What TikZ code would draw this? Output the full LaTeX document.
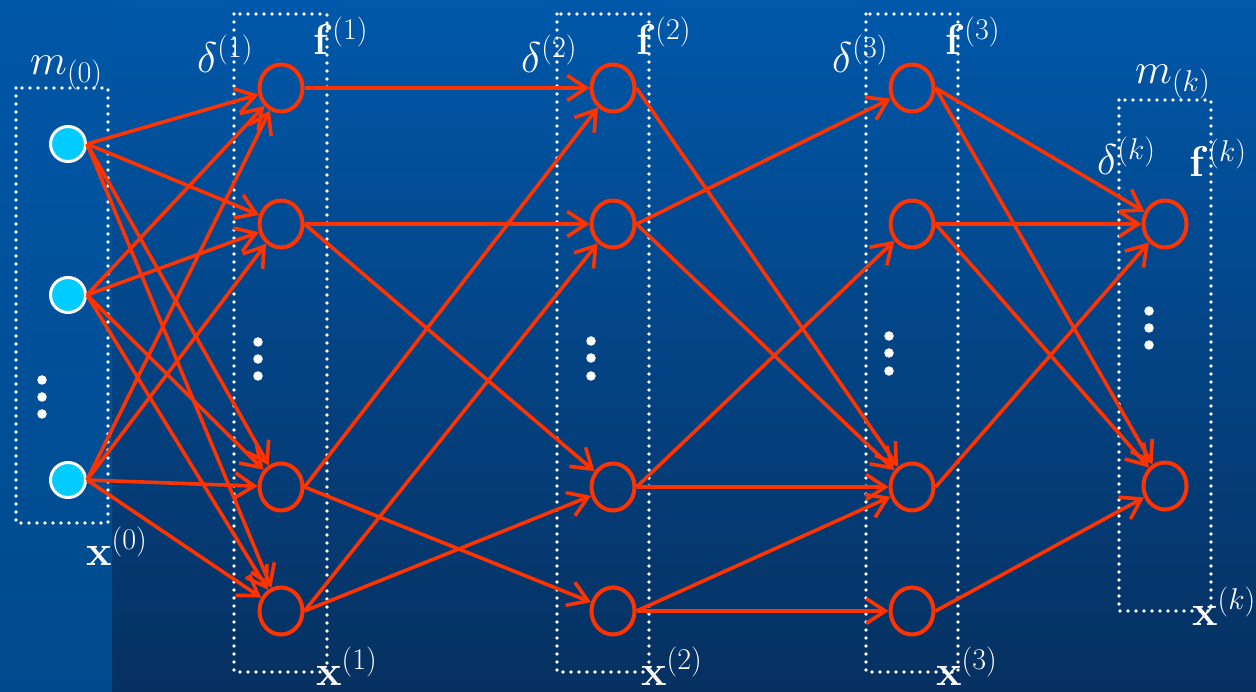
\RequirePackage{fix-cm}
\documentclass[tikz,border=0pt]{standalone}
\usetikzlibrary{arrows.meta,shapes.geometric}

\definecolor{bgtop}{RGB}{0,88,170}
\definecolor{bgbot}{RGB}{6,48,96}
\definecolor{striptop}{RGB}{0,86,166}
\definecolor{stripbot}{RGB}{0,74,140}
\definecolor{wire}{RGB}{255,51,0}
\definecolor{inputfill}{RGB}{0,204,255}

\tikzset{
  edge/.style={draw=wire, line width=3.6pt, -{Straight Barb[length=19pt,width=25pt]}},
  unit/.style={ellipse, draw=wire, line width=4pt, minimum width=43pt, minimum height=47pt, inner sep=0pt},
  inp/.style={circle, fill=inputfill, draw=white, line width=3pt, minimum width=33pt, minimum height=35pt, inner sep=0pt},
  layerbox/.style={draw=white, line width=3.6pt, line cap=round, dash pattern=on 0pt off 8pt},
  lbl/.style={text=white, font=\fontsize{43}{50}\selectfont, inner sep=0pt, anchor=base west},
  vdot/.style={circle, fill=white, inner sep=0pt, minimum size=9.5pt}
}

\begin{document}
\begin{tikzpicture}[x=1pt,y=-1pt]
\useasboundingbox (0,0) rectangle (1256,692);

% background
\shade[top color=bgtop, bottom color=bgbot] (0,0) rectangle (1256,692);
\shade[top color=striptop, bottom color=stripbot] (0,0) rectangle (112,692);

% dotted layer frames
\draw[layerbox] (16,88) rectangle (108,523);
\draw[layerbox] (234,14) rectangle (327,672);
\draw[layerbox] (557,14) rectangle (649,672);
\draw[layerbox] (866,14) rectangle (958,672);
\draw[layerbox] (1119,100) rectangle (1211,611);

% input layer
\node[inp] (in1) at (68,144) {};
\node[inp] (in2) at (68,295) {};
\node[inp] (in3) at (68,480) {};
\node[vdot] (e1) at (42,380) {};
\node[vdot] (e2) at (42,397) {};
\node[vdot] (e3) at (42,414) {};

% hidden layers
\foreach \n/\x in {a/281,b/613,c/912}{
  \node[unit] (\n1) at (\x,88) {};
  \node[unit] (\n2) at (\x,224) {};
  \node[unit] (\n3) at (\x,487) {};
  \node[unit] (\n4) at (\x,611) {};
}
\node[vdot] (ad1) at (258,342) {};
\node[vdot] (ad2) at (258,359) {};
\node[vdot] (ad3) at (258,376) {};
\node[vdot] (bd1) at (591,341) {};
\node[vdot] (bd2) at (591,358) {};
\node[vdot] (bd3) at (591,376) {};
\node[vdot] (cd1) at (889,336) {};
\node[vdot] (cd2) at (889,353) {};
\node[vdot] (cd3) at (889,371) {};

% output layer
\node[unit] (k1) at (1165,224) {};
\node[unit] (k2) at (1165,486) {};
\node[vdot] (kd1) at (1149,311) {};
\node[vdot] (kd2) at (1149,328) {};
\node[vdot] (kd3) at (1149,345) {};

% connections
\foreach \i in {1,2,3}
  \foreach \j in {1,2,3,4}
    \draw[edge] (in\i.east) -- (a\j);

\foreach \i/\j in {1/1,2/2,2/3,3/1,3/4,4/2,4/3}
  \draw[edge] (a\i.east) -- (b\j);

\foreach \i/\j in {1/3,2/1,2/3,3/2,3/3,4/3,4/4}
  \draw[edge] (b\i.east) -- (c\j);

\foreach \i/\j in {1/1,1/2,2/1,2/2,3/1,4/2}
  \draw[edge] (c\i.east) -- (k\j);

% labels
\node[lbl] (m0) at (30,75) {$m_{(0)}$};
\node[lbl] (x0) at (86,565) {$\mathbf{x}^{(0)}$};
\node[lbl] (d1) at (197,73) {$\delta^{(1)}$};
\node[lbl] (f1) at (313,55) {$\mathbf{f}^{(1)}$};
\node[lbl] (x1) at (316,685) {$\mathbf{x}^{(1)}$};
\node[lbl] (d2) at (521,73) {$\delta^{(2)}$};
\node[lbl] (f2) at (636,55) {$\mathbf{f}^{(2)}$};
\node[lbl] (x2) at (641,685) {$\mathbf{x}^{(2)}$};
\node[lbl] (d3) at (832,73) {$\delta^{(3)}$};
\node[lbl] (f3) at (945,55) {$\mathbf{f}^{(3)}$};
\node[lbl] (x3) at (936,685) {$\mathbf{x}^{(3)}$};
\node[lbl] (mk) at (1135,84) {$m_{(k)}$};
\node[lbl] (dk) at (1097,175) {$\delta^{(k)}$};
\node[lbl] (fk) at (1189,177) {$\mathbf{f}^{(k)}$};
\node[lbl] (xk) at (1192,625) {$\mathbf{x}^{(k)}$};
\end{tikzpicture}
\end{document}
